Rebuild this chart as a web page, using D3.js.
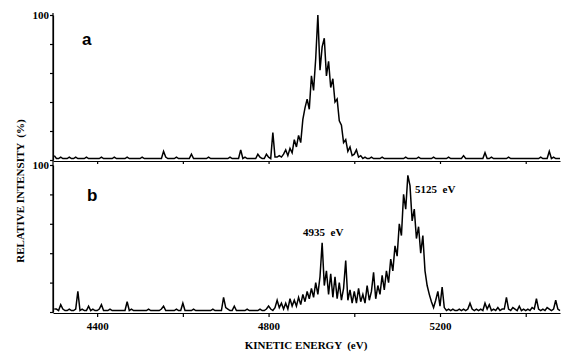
<!DOCTYPE html>
<html>
<head>
<meta charset="utf-8">
<script src="https://d3js.org/d3.v7.min.js"></script>
<style>
  body { margin: 0; background: #fff; }
  svg { display: block; }
  .axis path, .axis line { stroke: #000; stroke-width: 1.2; }
  .axis text { font-family: "Liberation Serif", serif; font-weight: bold; font-size: 11px; fill: #000; }
  .lbl { font-family: "Liberation Serif", serif; font-weight: bold; fill: #000; }
</style>
</head>
<body>
<div id="chart"></div>
<script>
// energy grid, 5 eV steps
var energy = d3.range(4300, 5481, 5);

// spectrum a (relative intensity %, one row per 100 eV)
var spectrumA = [
  3,1,1,2,1,1,1,2,1,1,2,1,1,1,1,2,1,1,1,1,
  1,1,2,1,1,1,1,1,2,1,1,1,1,1,2,1,1,1,1,1,
  1,2,1,1,1,1,1,1,1,1,1,6,2,1,1,1,1,2,1,1,
  1,1,1,1,4,1,1,1,1,1,1,1,2,1,1,1,1,1,1,1,
  1,1,2,1,1,1,1,7,1,2,1,1,1,1,1,4,2,1,1,4,
  2,1,19,2,2,3,2,4,7,3,8,5,14,9,17,12,28,36,42,35,
  58,48,70,100,62,78,84,58,68,50,56,40,42,27,24,12,14,6,9,3,
  4,7,2,3,1,2,1,1,2,1,1,1,1,2,1,1,1,1,1,1,
  1,1,1,1,2,1,1,1,1,1,2,1,1,1,1,1,1,2,1,1,
  1,1,1,1,2,1,1,1,1,1,1,3,1,1,1,1,1,1,1,1,
  1,5,1,1,2,1,1,1,1,1,1,1,2,1,1,1,1,1,1,1,
  1,1,1,1,1,1,1,2,1,1,1,6,1,2,1,1,1
];

// spectrum b
var spectrumB = [
  2,2,1,5,2,1,1,2,1,1,2,14,1,2,1,1,4,1,2,1,
  1,2,5,1,1,1,2,1,1,1,1,1,1,1,7,1,2,1,1,1,
  1,1,1,1,2,1,1,1,1,1,2,4,1,1,1,1,1,2,1,1,
  6,1,1,1,1,2,1,1,1,1,1,1,1,1,2,1,1,1,1,10,
  3,2,1,1,4,1,1,1,1,1,2,1,1,1,1,1,2,1,1,2,
  4,2,1,3,8,3,6,2,6,2,9,4,8,4,10,5,12,7,14,9,
  16,10,20,12,24,47,18,28,12,26,10,24,9,20,8,16,35,8,15,6,
  14,6,16,7,12,6,18,8,14,27,9,18,12,25,15,28,20,36,28,45,
  38,60,52,80,70,93,86,62,70,50,58,40,52,28,18,12,7,3,8,14,
  4,17,3,1,2,1,2,1,1,2,1,2,1,2,6,2,1,2,1,2,
  1,6,2,5,1,2,1,3,1,2,2,10,2,1,3,2,1,4,1,2,
  1,2,1,3,2,9,2,1,2,1,3,2,1,2,8,2,1
];

var xTicks = [4400, 4600, 4800, 5000, 5200, 5400];
var xLabels = [4400, 4800, 5200];
var yTicks = [0, 20, 40, 60, 80, 100];

var width = 564, height = 352;
var svg = d3.select('#chart').append('svg')
  .attr('width', width)
  .attr('height', height);

var x = d3.scaleLinear().domain([4297, 5480]).range([53, 560]);
var yA = d3.scaleLinear().domain([0, 100]).range([160, 15]);
var yB = d3.scaleLinear().domain([0, 100]).range([312, 165]);

function drawSpectrum(vals, y) {
  var line = d3.line()
    .x(function(d, i) { return x(energy[i]); })
    .y(function(d) { return y(d); });
  svg.append('path')
    .datum(vals)
    .attr('d', line)
    .attr('fill', 'none')
    .attr('stroke', '#000')
    .attr('stroke-width', 1.5)
    .attr('stroke-linejoin', 'miter');
}

drawSpectrum(spectrumA, yA);
drawSpectrum(spectrumB, yB);

// x axes (panel a: ticks only)
svg.append('g')
  .attr('class', 'axis')
  .attr('transform', 'translate(0,161)')
  .call(d3.axisBottom(x).tickValues(xTicks).tickSize(3).tickSizeOuter(0).tickFormat(''));

svg.append('g')
  .attr('class', 'axis')
  .attr('transform', 'translate(0,313)')
  .call(d3.axisBottom(x).tickValues(xTicks).tickSize(4).tickSizeOuter(0).tickPadding(5)
    .tickFormat(function(d) { return xLabels.indexOf(d) >= 0 ? d : ''; }));

// y axes
[yA, yB].forEach(function(y) {
  svg.append('g')
    .attr('class', 'axis')
    .attr('transform', 'translate(53,0)')
    .call(d3.axisLeft(y).tickValues(yTicks).tickSize(3).tickSizeOuter(0).tickPadding(1)
      .tickFormat(function(d) { return d === 100 ? d : ''; }));
});
svg.append('line')
  .attr('x1', 53).attr('x2', 53).attr('y1', 13).attr('y2', 313)
  .attr('stroke', '#000').attr('stroke-width', 1.2);

// panel letters
svg.append('text').attr('x', 82).attr('y', 45)
  .style('font-family', '"Liberation Sans", Arial, sans-serif')
  .style('font-weight', 'bold').style('font-size', '17px').text('a');
svg.append('text').attr('x', 87).attr('y', 201)
  .style('font-family', '"Liberation Sans", Arial, sans-serif')
  .style('font-weight', 'bold').style('font-size', '17px').text('b');

// peak annotations
svg.append('text').attr('class', 'lbl').attr('x', 303).attr('y', 236)
  .style('font-size', '11px').attr('xml:space', 'preserve').text('4935  eV');
svg.append('text').attr('class', 'lbl').attr('x', 415).attr('y', 193)
  .style('font-size', '11px').attr('xml:space', 'preserve').text('5125  eV');

// axis titles
svg.append('text').attr('class', 'lbl')
  .attr('x', 306).attr('y', 349)
  .attr('text-anchor', 'middle')
  .style('font-size', '11px')
  .attr('xml:space', 'preserve')
  .text('KINETIC ENERGY  (eV)');

svg.append('text').attr('class', 'lbl')
  .attr('transform', 'translate(24,191) rotate(-90)')
  .attr('text-anchor', 'middle')
  .style('font-size', '11px')
  .attr('xml:space', 'preserve')
  .text('RELATIVE INTENSITY  (%)');
</script>
</body>
</html>
